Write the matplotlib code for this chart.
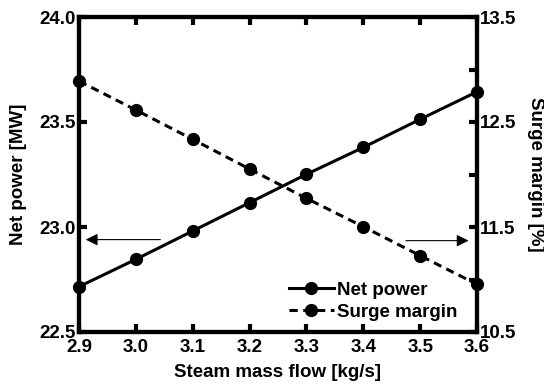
import matplotlib.pyplot as plt
import numpy as np

plt.rcParams['font.family'] = ['Liberation Sans', 'DejaVu Sans']
plt.rcParams['font.weight'] = 'bold'

# data
flow = [2.9, 3.0, 3.1, 3.2, 3.3, 3.4, 3.5, 3.6]
net_power = [22.716, 22.846, 22.981, 23.116, 23.251, 23.379, 23.513, 23.644]
surge_margin = [12.89, 12.614, 12.335, 12.052, 11.773, 11.503, 11.227, 10.954]

fig = plt.figure(figsize=(5.44, 3.87), dpi=100)
ax = fig.add_axes([79/544, 1 - 332/387, 398/544, 315/387])
ax2 = ax.twinx()

l1, = ax.plot(flow, net_power, 'k-', lw=2.2, marker='o', ms=8.5, clip_on=False, zorder=5)
l2, = ax2.plot(flow, surge_margin, 'k--', lw=2.2, marker='o', ms=8.5, clip_on=False,
               dashes=(2.7, 1.8), zorder=5)

ax.set_xlim(2.9, 3.6)
ax.set_ylim(22.5, 24.0)
ax2.set_ylim(10.5, 13.5)
ax.set_xticks(np.arange(2.9, 3.61, 0.1))
ax.set_yticks([22.5, 23.0, 23.5, 24.0])
ax2.set_yticks([10.5, 11.5, 12.5, 13.5])
ax2.set_yticks([11.0, 12.0, 13.0], minor=True)

for a in (ax, ax2):
    for s in a.spines.values():
        s.set_linewidth(3)
ax.tick_params(axis='x', direction='in', width=3, length=6, top=True, labelsize=13.5, pad=5)
ax.tick_params(axis='y', direction='in', width=3, length=6, labelsize=13.5, pad=2)
ax2.tick_params(axis='y', which='both', direction='in', width=3, length=6, labelsize=13.5, pad=2)
ax.yaxis.set_major_formatter(plt.FormatStrFormatter('%.1f'))
ax2.yaxis.set_major_formatter(plt.FormatStrFormatter('%.1f'))
ax.xaxis.set_major_formatter(plt.FormatStrFormatter('%.1f'))

ax.set_xlabel('Steam mass flow [kg/s]', fontsize=13.5, fontweight='bold', labelpad=6)
ax.set_ylabel('Net power [MW]', fontsize=13.5, fontweight='bold', labelpad=9)
ax2.set_ylabel('Surge margin [%]', fontsize=13.5, fontweight='bold', rotation=270, labelpad=20)

ax.annotate('', xy=(2.907, 22.94), xytext=(3.048, 22.94),
            arrowprops=dict(arrowstyle='-|>', color='k', lw=0.8, mutation_scale=18))
ax.annotate('', xy=(3.59, 22.935), xytext=(3.47, 22.935),
            arrowprops=dict(arrowstyle='-|>', color='k', lw=0.8, mutation_scale=18))

ax2.legend([l1, l2], ['Net power', 'Surge margin'], loc='lower right', frameon=False,
           fontsize=13.5, handlelength=2.4, borderaxespad=0.2, labelspacing=0.25,
           handletextpad=0.2, bbox_to_anchor=(0.98, 0.0))

fig.savefig('out.png', dpi=100)
